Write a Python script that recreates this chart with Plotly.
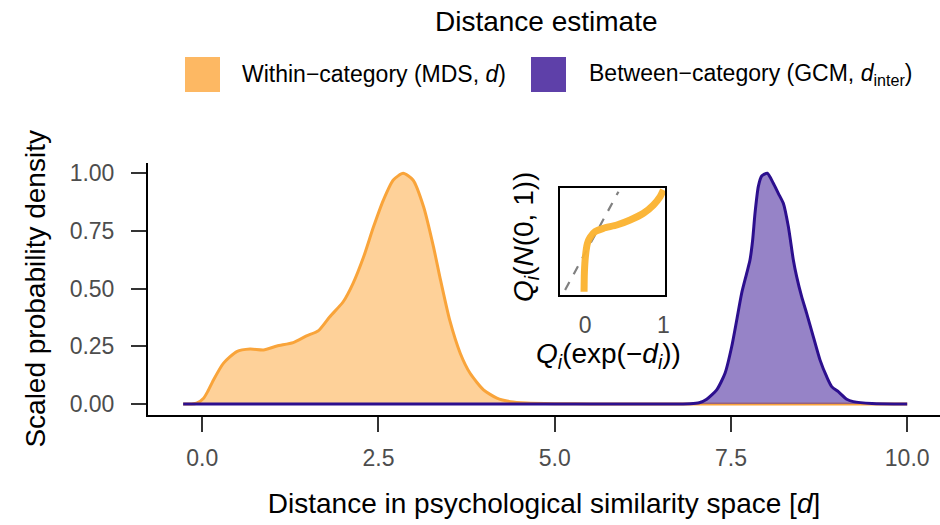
import plotly.graph_objects as go

# ---------------- data ----------------
within_x = [-0.27, -0.15, -0.08, 0.02, 0.08, 0.16, 0.30, 0.49, 0.68, 0.87, 1.06, 1.29, 1.48, 1.65,
            1.81, 2.00, 2.14, 2.29, 2.43, 2.57, 2.71, 2.85, 2.99, 3.14, 3.28, 3.37, 3.51, 3.66,
            3.80, 3.99, 4.18, 4.37, 4.60, 5.00, 5.50, 10.0]
within_y = [0.0, 0.0, 0.003, 0.025, 0.055, 0.104, 0.176, 0.227, 0.238, 0.234, 0.251, 0.266, 0.295, 0.318,
            0.378, 0.443, 0.523, 0.638, 0.768, 0.884, 0.971, 1.0, 0.971, 0.855, 0.682, 0.552, 0.364, 0.22,
            0.133, 0.061, 0.025, 0.01, 0.004, 0.001, 0.0, 0.0]

between_x = [-0.27, 6.5, 6.92, 7.05, 7.156, 7.298, 7.416, 7.511, 7.582, 7.652, 7.723, 7.770, 7.808,
             7.841, 7.888, 7.936, 8.016, 8.101, 8.172, 8.243, 8.314, 8.385, 8.432, 8.503, 8.574,
             8.668, 8.763, 8.858, 8.929, 9.023, 9.142, 9.236, 9.5, 10.0]
between_y = [0.0, 0.0, 0.001, 0.005, 0.020, 0.061, 0.133, 0.249, 0.364, 0.480, 0.566, 0.624, 0.711,
             0.826, 0.942, 0.988, 1.0, 0.957, 0.913, 0.870, 0.769, 0.624, 0.552, 0.465, 0.393,
             0.292, 0.191, 0.118, 0.075, 0.053, 0.020, 0.010, 0.002, 0.0]

# inset Q-Q plot (sample quantiles vs normal quantiles, normalised panel units)
qq_x = [-0.013, -0.009, 0.004, 0.030, 0.064, 0.128, 0.234, 0.405, 0.575, 0.745, 0.873, 0.958, 1.0]
qq_y = [0.031, 0.203, 0.359, 0.484, 0.541, 0.594, 0.625, 0.656, 0.703, 0.766, 0.844, 0.922, 0.984]
ref_x = [-0.255, 0.426]
ref_y = [0.047, 0.968]

x_ticks = [0.0, 2.5, 5.0, 7.5, 10.0]
x_tick_labels = ["0.0", "2.5", "5.0", "7.5", "10.0"]
y_ticks = [0.0, 0.25, 0.5, 0.75, 1.0]
y_tick_labels = ["0.00", "0.25", "0.50", "0.75", "1.00"]
inset_ticks = [0, 1]
inset_tick_labels = ["0", "1"]

series_names = ["Within\u2212category (MDS, <i>d</i>)",
                "Between\u2212category (GCM, <i>d</i><sub>inter</sub>)"]
legend_title = "Distance estimate"

# ---------------- styling ----------------
FONT = "Liberation Sans, Arial, Helvetica, sans-serif"
W, H = 940, 525
ORANGE = "#FDB863"
PURPLE = "#5E40A9"
ORANGE_FILL = "rgba(253,184,99,0.65)"
PURPLE_FILL = "rgba(94,64,169,0.65)"
ORANGE_LINE = "#F9A43A"
PURPLE_LINE = "#2C0F8E"
TICK_COLOR = "#4D4D4D"


def px(x):
    return x / W


def py(y):
    return 1 - y / H


fig = go.Figure()

fig.add_trace(go.Scatter(x=within_x, y=within_y, mode="lines", fill="tozeroy",
                         fillcolor=ORANGE_FILL, line=dict(color=ORANGE_LINE, width=3, shape="spline", smoothing=0.6),
                         name="within", showlegend=False, hoverinfo="skip"))
fig.add_trace(go.Scatter(x=between_x, y=between_y, mode="lines", fill="tozeroy",
                         fillcolor=PURPLE_FILL, line=dict(color=PURPLE_LINE, width=3, shape="spline", smoothing=0.6),
                         name="between", showlegend=False, hoverinfo="skip"))

# inset
fig.add_trace(go.Scatter(x=ref_x, y=ref_y, mode="lines", xaxis="x2", yaxis="y2",
                         line=dict(color="#808080", width=2.2, dash="dash"), showlegend=False, hoverinfo="skip"))
fig.add_trace(go.Scatter(x=qq_x, y=qq_y, mode="lines", xaxis="x2", yaxis="y2",
                         line=dict(color="rgba(251,178,46,0.95)", width=7, shape="spline", smoothing=0.5),
                         showlegend=False, hoverinfo="skip"))

main_axis_common = dict(showgrid=False, zeroline=False, showline=True, linecolor="black", linewidth=2,
                        ticks="outside", ticklen=15, tickwidth=2, tickcolor="#333333",
                        tickfont=dict(family=FONT, size=23, color=TICK_COLOR), automargin=False)

fig.update_layout(
    width=W, height=H,
    margin=dict(l=0, r=0, t=0, b=0),
    paper_bgcolor="white", plot_bgcolor="white",
    font=dict(family=FONT, color="black"),
    xaxis=dict(domain=[px(148), 1.0], range=[(148 - 202.2) / 70.5, (940 - 202.2) / 70.5],
               tickvals=x_ticks, ticktext=x_tick_labels, ticklabelstandoff=6,
               title=dict(text="Distance in psychological similarity space [<i>d</i>]",
                          font=dict(family=FONT, size=28, color="black"), standoff=24),
               **main_axis_common),
    yaxis=dict(domain=[py(415), py(162.7)], range=[-0.048, 1.046], anchor="x",
               tickvals=y_ticks, ticktext=y_tick_labels, ticklabelstandoff=12,
               title=dict(text="Scaled probability density",
                          font=dict(family=FONT, size=28, color="black"), standoff=16),
               **main_axis_common),
    xaxis2=dict(domain=[px(560), px(665)], range=[-0.32, 1.02], anchor="y2",
                showgrid=False, zeroline=False, showline=True, mirror=True, linecolor="black", linewidth=2,
                ticks="outside", ticklen=8, tickcolor="rgba(0,0,0,0)",
                tickvals=inset_ticks, ticktext=inset_tick_labels,
                tickfont=dict(family=FONT, size=23, color=TICK_COLOR), automargin=False),
    yaxis2=dict(domain=[py(295), py(188.3)], range=[0, 1], anchor="x2",
                showgrid=False, zeroline=False, showline=True, mirror=True, linecolor="black", linewidth=2,
                showticklabels=False, ticks="", automargin=False),
)

# inset axis titles
fig.add_annotation(x=px(608), y=py(355), xref="paper", yref="paper", showarrow=False,
                   text="<i>Q</i><sub><i>i</i></sub>(exp(\u2212<i>d</i><sub><i>i</i></sub>))",
                   font=dict(family=FONT, size=28, color="black"), xanchor="center", yanchor="middle")
fig.add_annotation(x=px(526), y=py(237), xref="paper", yref="paper", showarrow=False, textangle=-90,
                   text="<i>Q</i><sub><i>i</i></sub>(<i>N</i>(0, 1))",
                   font=dict(family=FONT, size=28, color="black"), xanchor="center", yanchor="middle")

# legend (drawn manually)
fig.add_annotation(x=px(546), y=py(21), xref="paper", yref="paper", showarrow=False,
                   text=legend_title, font=dict(family=FONT, size=28, color="black"),
                   xanchor="center", yanchor="middle")
swatches = [(185, ORANGE), (531, PURPLE)]
text_left = [240, 587]
for (sx, col), tx, name in zip(swatches, text_left, series_names):
    fig.add_shape(type="rect", xref="paper", yref="paper",
                  x0=px(sx), x1=px(sx + 35), y0=py(92), y1=py(57),
                  fillcolor=col, line=dict(width=0))
    fig.add_annotation(x=px(tx), y=py(74), xref="paper", yref="paper", showarrow=False,
                       text=name, font=dict(family=FONT, size=23, color="black"),
                       xanchor="left", yanchor="middle")

fig.write_html("out.html")
